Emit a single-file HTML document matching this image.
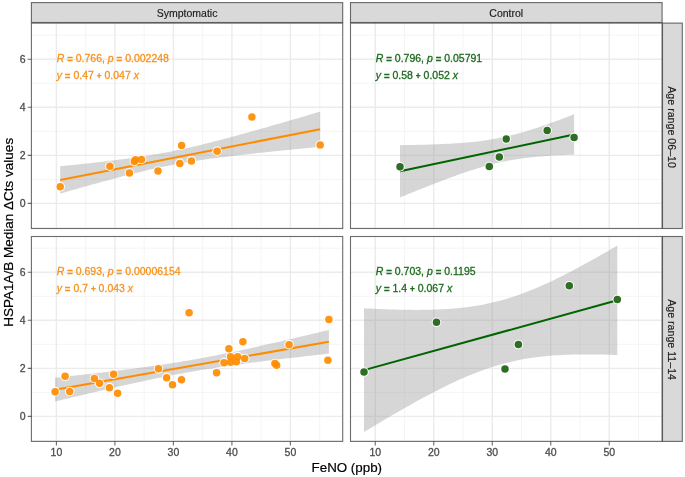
<!DOCTYPE html><html><head><meta charset="utf-8"><style>html,body{margin:0;padding:0;background:#fff;overflow:hidden;}svg{display:block;will-change:transform;}</style></head><body><svg width="685" height="477" viewBox="0 0 685 477">
<rect width="685" height="477" fill="#fff"/>
<rect x="31.4" y="23.1" width="311.30" height="205.40" fill="#fff"/>
<path d="M85.65 23.1V228.5M144.15 23.1V228.5M202.65 23.1V228.5M261.15 23.1V228.5M319.65 23.1V228.5M31.4 227.43H342.7M31.4 179.37H342.7M31.4 131.31H342.7M31.4 83.25H342.7M31.4 35.19H342.7" stroke="#F2F2F2" stroke-width="0.8" fill="none"/>
<path d="M56.40 23.1V228.5M114.90 23.1V228.5M173.40 23.1V228.5M231.90 23.1V228.5M290.40 23.1V228.5M31.4 203.40H342.7M31.4 155.34H342.7M31.4 107.28H342.7M31.4 59.22H342.7" stroke="#EBEBEB" stroke-width="1.4" fill="none"/>
<polygon points="60.20,166.27 63.49,165.93 66.78,165.59 70.07,165.25 73.36,164.90 76.66,164.56 79.95,164.21 83.24,163.85 86.53,163.49 89.82,163.13 93.11,162.76 96.40,162.39 99.69,162.01 102.98,161.63 106.28,161.24 109.57,160.85 112.86,160.45 116.15,160.04 119.44,159.62 122.73,159.19 126.02,158.76 129.31,158.31 132.61,157.85 135.90,157.39 139.19,156.90 142.48,156.41 145.77,155.90 149.06,155.38 152.35,154.84 155.64,154.28 158.93,153.71 162.23,153.12 165.52,152.51 168.81,151.89 172.10,151.24 175.39,150.58 178.68,149.90 181.97,149.20 185.26,148.48 188.55,147.75 191.85,147.00 195.14,146.24 198.43,145.46 201.72,144.67 205.01,143.86 208.30,143.04 211.59,142.21 214.88,141.37 218.17,140.52 221.47,139.66 224.76,138.79 228.05,137.91 231.34,137.03 234.63,136.14 237.92,135.24 241.21,134.34 244.50,133.43 247.79,132.51 251.09,131.59 254.38,130.67 257.67,129.74 260.96,128.81 264.25,127.88 267.54,126.94 270.83,126.00 274.12,125.06 277.42,124.11 280.71,123.17 284.00,122.21 287.29,121.26 290.58,120.31 293.87,119.35 297.16,118.39 300.45,117.43 303.74,116.47 307.04,115.51 310.33,114.54 313.62,113.58 316.91,112.61 320.20,111.64 320.20,146.79 316.91,147.11 313.62,147.43 310.33,147.74 307.04,148.06 303.74,148.39 300.45,148.71 297.16,149.03 293.87,149.36 290.58,149.69 287.29,150.02 284.00,150.35 280.71,150.68 277.42,151.02 274.12,151.36 270.83,151.70 267.54,152.04 264.25,152.39 260.96,152.74 257.67,153.09 254.38,153.45 251.09,153.81 247.79,154.18 244.50,154.55 241.21,154.93 237.92,155.31 234.63,155.69 231.34,156.09 228.05,156.49 224.76,156.89 221.47,157.31 218.17,157.73 214.88,158.17 211.59,158.61 208.30,159.07 205.01,159.53 201.72,160.01 198.43,160.50 195.14,161.01 191.85,161.53 188.55,162.06 185.26,162.61 181.97,163.18 178.68,163.77 175.39,164.37 172.10,164.99 168.81,165.63 165.52,166.29 162.23,166.97 158.93,167.66 155.64,168.38 152.35,169.10 149.06,169.85 145.77,170.61 142.48,171.39 139.19,172.18 135.90,172.98 132.61,173.79 129.31,174.62 126.02,175.46 122.73,176.31 119.44,177.17 116.15,178.03 112.86,178.91 109.57,179.79 106.28,180.68 102.98,181.58 99.69,182.48 96.40,183.39 93.11,184.30 89.82,185.22 86.53,186.14 83.24,187.06 79.95,187.99 76.66,188.93 73.36,189.86 70.07,190.80 66.78,191.75 63.49,192.69 60.20,193.64" fill="#999999" fill-opacity="0.4"/>
<line x1="60.20" y1="179.95" x2="320.20" y2="129.22" stroke="#FF8C00" stroke-width="2"/>
<circle cx="60.2" cy="186.8" r="4.8" fill="#fff" fill-opacity="0.92"/>
<circle cx="109.9" cy="166.2" r="4.8" fill="#fff" fill-opacity="0.92"/>
<circle cx="129.4" cy="173.1" r="4.8" fill="#fff" fill-opacity="0.92"/>
<circle cx="134.3" cy="161.6" r="4.8" fill="#fff" fill-opacity="0.92"/>
<circle cx="135.5" cy="159.8" r="4.8" fill="#fff" fill-opacity="0.92"/>
<circle cx="141.5" cy="159.4" r="4.8" fill="#fff" fill-opacity="0.92"/>
<circle cx="158" cy="171" r="4.8" fill="#fff" fill-opacity="0.92"/>
<circle cx="181.6" cy="145.4" r="4.8" fill="#fff" fill-opacity="0.92"/>
<circle cx="179.8" cy="163.4" r="4.8" fill="#fff" fill-opacity="0.92"/>
<circle cx="191.4" cy="160.9" r="4.8" fill="#fff" fill-opacity="0.92"/>
<circle cx="217.1" cy="151.2" r="4.8" fill="#fff" fill-opacity="0.92"/>
<circle cx="251.9" cy="116.9" r="4.8" fill="#fff" fill-opacity="0.92"/>
<circle cx="320.2" cy="145" r="4.8" fill="#fff" fill-opacity="0.92"/>
<circle cx="60.2" cy="186.8" r="3.75" fill="#FF8C00" fill-opacity="0.92"/>
<circle cx="109.9" cy="166.2" r="3.75" fill="#FF8C00" fill-opacity="0.92"/>
<circle cx="129.4" cy="173.1" r="3.75" fill="#FF8C00" fill-opacity="0.92"/>
<circle cx="134.3" cy="161.6" r="3.75" fill="#FF8C00" fill-opacity="0.92"/>
<circle cx="135.5" cy="159.8" r="3.75" fill="#FF8C00" fill-opacity="0.92"/>
<circle cx="141.5" cy="159.4" r="3.75" fill="#FF8C00" fill-opacity="0.92"/>
<circle cx="158" cy="171" r="3.75" fill="#FF8C00" fill-opacity="0.92"/>
<circle cx="181.6" cy="145.4" r="3.75" fill="#FF8C00" fill-opacity="0.92"/>
<circle cx="179.8" cy="163.4" r="3.75" fill="#FF8C00" fill-opacity="0.92"/>
<circle cx="191.4" cy="160.9" r="3.75" fill="#FF8C00" fill-opacity="0.92"/>
<circle cx="217.1" cy="151.2" r="3.75" fill="#FF8C00" fill-opacity="0.92"/>
<circle cx="251.9" cy="116.9" r="3.75" fill="#FF8C00" fill-opacity="0.92"/>
<circle cx="320.2" cy="145" r="3.75" fill="#FF8C00" fill-opacity="0.92"/>
<rect x="350.5" y="23.1" width="311.60" height="205.40" fill="#fff"/>
<path d="M404.50 23.1V228.5M463.00 23.1V228.5M521.50 23.1V228.5M580.00 23.1V228.5M638.50 23.1V228.5M350.5 227.43H662.1M350.5 179.37H662.1M350.5 131.31H662.1M350.5 83.25H662.1M350.5 35.19H662.1" stroke="#F2F2F2" stroke-width="0.8" fill="none"/>
<path d="M375.25 23.1V228.5M433.75 23.1V228.5M492.25 23.1V228.5M550.75 23.1V228.5M609.25 23.1V228.5M350.5 203.40H662.1M350.5 155.34H662.1M350.5 107.28H662.1M350.5 59.22H662.1" stroke="#EBEBEB" stroke-width="1.4" fill="none"/>
<polygon points="400.00,145.17 402.20,145.14 404.41,145.10 406.61,145.07 408.82,145.03 411.02,144.99 413.22,144.95 415.43,144.91 417.63,144.86 419.83,144.81 422.04,144.75 424.24,144.69 426.45,144.63 428.65,144.57 430.85,144.50 433.06,144.42 435.26,144.34 437.46,144.26 439.67,144.17 441.87,144.07 444.08,143.97 446.28,143.87 448.48,143.75 450.69,143.63 452.89,143.50 455.09,143.37 457.30,143.22 459.50,143.07 461.71,142.90 463.91,142.73 466.11,142.54 468.32,142.35 470.52,142.14 472.73,141.92 474.93,141.68 477.13,141.43 479.34,141.17 481.54,140.89 483.74,140.59 485.95,140.28 488.15,139.95 490.36,139.60 492.56,139.24 494.76,138.85 496.97,138.44 499.17,138.02 501.37,137.58 503.58,137.11 505.78,136.63 507.99,136.12 510.19,135.60 512.39,135.05 514.60,134.49 516.80,133.91 519.01,133.31 521.21,132.69 523.41,132.06 525.62,131.41 527.82,130.74 530.02,130.06 532.23,129.36 534.43,128.65 536.64,127.93 538.84,127.20 541.04,126.45 543.25,125.69 545.45,124.93 547.65,124.15 549.86,123.36 552.06,122.57 554.27,121.76 556.47,120.95 558.67,120.14 560.88,119.31 563.08,118.48 565.28,117.64 567.49,116.80 569.69,115.95 571.90,115.10 574.10,114.24 574.10,154.62 571.90,154.69 569.69,154.77 567.49,154.86 565.28,154.95 563.08,155.05 560.88,155.15 558.67,155.26 556.47,155.37 554.27,155.49 552.06,155.62 549.86,155.76 547.65,155.91 545.45,156.07 543.25,156.23 541.04,156.41 538.84,156.60 536.64,156.80 534.43,157.01 532.23,157.23 530.02,157.47 527.82,157.72 525.62,157.99 523.41,158.27 521.21,158.57 519.01,158.89 516.80,159.22 514.60,159.57 512.39,159.94 510.19,160.33 507.99,160.74 505.78,161.17 503.58,161.62 501.37,162.09 499.17,162.57 496.97,163.08 494.76,163.61 492.56,164.16 490.36,164.73 488.15,165.31 485.95,165.92 483.74,166.54 481.54,167.17 479.34,167.83 477.13,168.50 474.93,169.18 472.73,169.88 470.52,170.59 468.32,171.32 466.11,172.05 463.91,172.80 461.71,173.56 459.50,174.33 457.30,175.11 455.09,175.90 452.89,176.69 450.69,177.50 448.48,178.31 446.28,179.13 444.08,179.96 441.87,180.79 439.67,181.63 437.46,182.47 435.26,183.32 433.06,184.18 430.85,185.04 428.65,185.90 426.45,186.77 424.24,187.64 422.04,188.51 419.83,189.39 417.63,190.27 415.43,191.16 413.22,192.05 411.02,192.94 408.82,193.83 406.61,194.73 404.41,195.63 402.20,196.53 400.00,197.43" fill="#999999" fill-opacity="0.4"/>
<line x1="400.00" y1="171.30" x2="574.10" y2="134.43" stroke="#006400" stroke-width="2"/>
<circle cx="400" cy="166.8" r="4.8" fill="#fff" fill-opacity="0.92"/>
<circle cx="489.3" cy="166.6" r="4.8" fill="#fff" fill-opacity="0.92"/>
<circle cx="499.3" cy="157" r="4.8" fill="#fff" fill-opacity="0.92"/>
<circle cx="506.3" cy="139" r="4.8" fill="#fff" fill-opacity="0.92"/>
<circle cx="547.2" cy="130.4" r="4.8" fill="#fff" fill-opacity="0.92"/>
<circle cx="574.1" cy="137.5" r="4.8" fill="#fff" fill-opacity="0.92"/>
<circle cx="400" cy="166.8" r="3.75" fill="#1C6211" fill-opacity="0.92"/>
<circle cx="489.3" cy="166.6" r="3.75" fill="#1C6211" fill-opacity="0.92"/>
<circle cx="499.3" cy="157" r="3.75" fill="#1C6211" fill-opacity="0.92"/>
<circle cx="506.3" cy="139" r="3.75" fill="#1C6211" fill-opacity="0.92"/>
<circle cx="547.2" cy="130.4" r="3.75" fill="#1C6211" fill-opacity="0.92"/>
<circle cx="574.1" cy="137.5" r="3.75" fill="#1C6211" fill-opacity="0.92"/>
<rect x="31.4" y="236.5" width="311.30" height="204.90" fill="#fff"/>
<path d="M85.65 236.5V441.4M144.15 236.5V441.4M202.65 236.5V441.4M261.15 236.5V441.4M319.65 236.5V441.4M31.4 440.43H342.7M31.4 392.37H342.7M31.4 344.31H342.7M31.4 296.25H342.7M31.4 248.19H342.7" stroke="#F2F2F2" stroke-width="0.8" fill="none"/>
<path d="M56.40 236.5V441.4M114.90 236.5V441.4M173.40 236.5V441.4M231.90 236.5V441.4M290.40 236.5V441.4M31.4 416.40H342.7M31.4 368.34H342.7M31.4 320.28H342.7M31.4 272.22H342.7" stroke="#EBEBEB" stroke-width="1.4" fill="none"/>
<polygon points="55.10,377.79 58.57,377.41 62.03,377.03 65.50,376.65 68.96,376.26 72.43,375.87 75.89,375.49 79.36,375.09 82.83,374.70 86.29,374.31 89.76,373.91 93.22,373.51 96.69,373.11 100.16,372.70 103.62,372.29 107.09,371.88 110.55,371.46 114.02,371.04 117.48,370.62 120.95,370.19 124.42,369.76 127.88,369.32 131.35,368.88 134.81,368.43 138.28,367.97 141.75,367.51 145.21,367.04 148.68,366.57 152.14,366.09 155.61,365.59 159.07,365.09 162.54,364.58 166.01,364.06 169.47,363.54 172.94,363.00 176.40,362.45 179.87,361.89 183.34,361.32 186.80,360.73 190.27,360.14 193.73,359.53 197.20,358.91 200.66,358.28 204.13,357.64 207.60,356.99 211.06,356.33 214.53,355.66 217.99,354.97 221.46,354.28 224.93,353.58 228.39,352.87 231.86,352.14 235.32,351.42 238.79,350.68 242.25,349.94 245.72,349.19 249.19,348.43 252.65,347.67 256.12,346.90 259.58,346.12 263.05,345.34 266.52,344.56 269.98,343.77 273.45,342.98 276.91,342.18 280.38,341.38 283.84,340.58 287.31,339.77 290.78,338.96 294.24,338.15 297.71,337.34 301.17,336.52 304.64,335.70 308.11,334.88 311.57,334.06 315.04,333.23 318.50,332.41 321.97,331.58 325.43,330.75 328.90,329.91 328.90,353.64 325.43,354.02 321.97,354.41 318.50,354.79 315.04,355.17 311.57,355.56 308.11,355.95 304.64,356.34 301.17,356.73 297.71,357.13 294.24,357.52 290.78,357.92 287.31,358.33 283.84,358.73 280.38,359.14 276.91,359.55 273.45,359.97 269.98,360.39 266.52,360.81 263.05,361.24 259.58,361.67 256.12,362.11 252.65,362.55 249.19,363.00 245.72,363.46 242.25,363.92 238.79,364.39 235.32,364.86 231.86,365.35 228.39,365.84 224.93,366.34 221.46,366.85 217.99,367.36 214.53,367.89 211.06,368.43 207.60,368.98 204.13,369.54 200.66,370.11 197.20,370.69 193.73,371.29 190.27,371.89 186.80,372.51 183.34,373.14 179.87,373.78 176.40,374.43 172.94,375.09 169.47,375.77 166.01,376.45 162.54,377.14 159.07,377.85 155.61,378.56 152.14,379.28 148.68,380.01 145.21,380.74 141.75,381.48 138.28,382.24 134.81,382.99 131.35,383.75 127.88,384.52 124.42,385.30 120.95,386.08 117.48,386.86 114.02,387.65 110.55,388.44 107.09,389.24 103.62,390.04 100.16,390.84 96.69,391.64 93.22,392.45 89.76,393.27 86.29,394.08 82.83,394.90 79.36,395.72 75.89,396.54 72.43,397.36 68.96,398.19 65.50,399.01 62.03,399.84 58.57,400.67 55.10,401.50" fill="#999999" fill-opacity="0.4"/>
<line x1="55.10" y1="389.65" x2="328.90" y2="341.78" stroke="#FF8C00" stroke-width="2"/>
<circle cx="55.1" cy="391.65" r="4.8" fill="#fff" fill-opacity="0.92"/>
<circle cx="65.1" cy="376.35" r="4.8" fill="#fff" fill-opacity="0.92"/>
<circle cx="69.7" cy="391.45" r="4.8" fill="#fff" fill-opacity="0.92"/>
<circle cx="94.4" cy="378.45" r="4.8" fill="#fff" fill-opacity="0.92"/>
<circle cx="99.6" cy="383.35" r="4.8" fill="#fff" fill-opacity="0.92"/>
<circle cx="109.4" cy="387.65" r="4.8" fill="#fff" fill-opacity="0.92"/>
<circle cx="113.6" cy="374.15" r="4.8" fill="#fff" fill-opacity="0.92"/>
<circle cx="117.6" cy="393.15" r="4.8" fill="#fff" fill-opacity="0.92"/>
<circle cx="158.5" cy="368.85" r="4.8" fill="#fff" fill-opacity="0.92"/>
<circle cx="166.6" cy="377.65" r="4.8" fill="#fff" fill-opacity="0.92"/>
<circle cx="172.5" cy="384.75" r="4.8" fill="#fff" fill-opacity="0.92"/>
<circle cx="181.5" cy="379.75" r="4.8" fill="#fff" fill-opacity="0.92"/>
<circle cx="189.1" cy="312.75" r="4.8" fill="#fff" fill-opacity="0.92"/>
<circle cx="216.6" cy="372.75" r="4.8" fill="#fff" fill-opacity="0.92"/>
<circle cx="224" cy="362.65" r="4.8" fill="#fff" fill-opacity="0.92"/>
<circle cx="228.9" cy="348.75" r="4.8" fill="#fff" fill-opacity="0.92"/>
<circle cx="230.6" cy="356.65" r="4.8" fill="#fff" fill-opacity="0.92"/>
<circle cx="230.6" cy="362.15" r="4.8" fill="#fff" fill-opacity="0.92"/>
<circle cx="236.3" cy="361.75" r="4.8" fill="#fff" fill-opacity="0.92"/>
<circle cx="237.6" cy="356.65" r="4.8" fill="#fff" fill-opacity="0.92"/>
<circle cx="242.9" cy="341.75" r="4.8" fill="#fff" fill-opacity="0.92"/>
<circle cx="244.7" cy="358.45" r="4.8" fill="#fff" fill-opacity="0.92"/>
<circle cx="274.9" cy="363.45" r="4.8" fill="#fff" fill-opacity="0.92"/>
<circle cx="276.6" cy="365.35" r="4.8" fill="#fff" fill-opacity="0.92"/>
<circle cx="289.1" cy="344.65" r="4.8" fill="#fff" fill-opacity="0.92"/>
<circle cx="328.9" cy="319.45" r="4.8" fill="#fff" fill-opacity="0.92"/>
<circle cx="327.9" cy="360.15" r="4.8" fill="#fff" fill-opacity="0.92"/>
<circle cx="55.1" cy="391.65" r="3.75" fill="#FF8C00" fill-opacity="0.92"/>
<circle cx="65.1" cy="376.35" r="3.75" fill="#FF8C00" fill-opacity="0.92"/>
<circle cx="69.7" cy="391.45" r="3.75" fill="#FF8C00" fill-opacity="0.92"/>
<circle cx="94.4" cy="378.45" r="3.75" fill="#FF8C00" fill-opacity="0.92"/>
<circle cx="99.6" cy="383.35" r="3.75" fill="#FF8C00" fill-opacity="0.92"/>
<circle cx="109.4" cy="387.65" r="3.75" fill="#FF8C00" fill-opacity="0.92"/>
<circle cx="113.6" cy="374.15" r="3.75" fill="#FF8C00" fill-opacity="0.92"/>
<circle cx="117.6" cy="393.15" r="3.75" fill="#FF8C00" fill-opacity="0.92"/>
<circle cx="158.5" cy="368.85" r="3.75" fill="#FF8C00" fill-opacity="0.92"/>
<circle cx="166.6" cy="377.65" r="3.75" fill="#FF8C00" fill-opacity="0.92"/>
<circle cx="172.5" cy="384.75" r="3.75" fill="#FF8C00" fill-opacity="0.92"/>
<circle cx="181.5" cy="379.75" r="3.75" fill="#FF8C00" fill-opacity="0.92"/>
<circle cx="189.1" cy="312.75" r="3.75" fill="#FF8C00" fill-opacity="0.92"/>
<circle cx="216.6" cy="372.75" r="3.75" fill="#FF8C00" fill-opacity="0.92"/>
<circle cx="224" cy="362.65" r="3.75" fill="#FF8C00" fill-opacity="0.92"/>
<circle cx="228.9" cy="348.75" r="3.75" fill="#FF8C00" fill-opacity="0.92"/>
<circle cx="230.6" cy="356.65" r="3.75" fill="#FF8C00" fill-opacity="0.92"/>
<circle cx="230.6" cy="362.15" r="3.75" fill="#FF8C00" fill-opacity="0.92"/>
<circle cx="236.3" cy="361.75" r="3.75" fill="#FF8C00" fill-opacity="0.92"/>
<circle cx="237.6" cy="356.65" r="3.75" fill="#FF8C00" fill-opacity="0.92"/>
<circle cx="242.9" cy="341.75" r="3.75" fill="#FF8C00" fill-opacity="0.92"/>
<circle cx="244.7" cy="358.45" r="3.75" fill="#FF8C00" fill-opacity="0.92"/>
<circle cx="274.9" cy="363.45" r="3.75" fill="#FF8C00" fill-opacity="0.92"/>
<circle cx="276.6" cy="365.35" r="3.75" fill="#FF8C00" fill-opacity="0.92"/>
<circle cx="289.1" cy="344.65" r="3.75" fill="#FF8C00" fill-opacity="0.92"/>
<circle cx="328.9" cy="319.45" r="3.75" fill="#FF8C00" fill-opacity="0.92"/>
<circle cx="327.9" cy="360.15" r="3.75" fill="#FF8C00" fill-opacity="0.92"/>
<rect x="350.5" y="236.5" width="311.60" height="204.90" fill="#fff"/>
<path d="M404.50 236.5V441.4M463.00 236.5V441.4M521.50 236.5V441.4M580.00 236.5V441.4M638.50 236.5V441.4M350.5 440.43H662.1M350.5 392.37H662.1M350.5 344.31H662.1M350.5 296.25H662.1M350.5 248.19H662.1" stroke="#F2F2F2" stroke-width="0.8" fill="none"/>
<path d="M375.25 236.5V441.4M433.75 236.5V441.4M492.25 236.5V441.4M550.75 236.5V441.4M609.25 236.5V441.4M350.5 416.40H662.1M350.5 368.34H662.1M350.5 320.28H662.1M350.5 272.22H662.1" stroke="#EBEBEB" stroke-width="1.4" fill="none"/>
<polygon points="364.00,308.29 367.21,308.45 370.41,308.61 373.62,308.77 376.83,308.91 380.03,309.05 383.24,309.18 386.44,309.30 389.65,309.41 392.86,309.51 396.06,309.60 399.27,309.68 402.48,309.75 405.68,309.80 408.89,309.85 412.09,309.87 415.30,309.88 418.51,309.88 421.71,309.86 424.92,309.82 428.13,309.77 431.33,309.69 434.54,309.59 437.75,309.47 440.95,309.33 444.16,309.16 447.36,308.96 450.57,308.74 453.78,308.48 456.98,308.20 460.19,307.88 463.40,307.53 466.60,307.15 469.81,306.72 473.02,306.26 476.22,305.76 479.43,305.22 482.63,304.63 485.84,304.00 489.05,303.32 492.25,302.60 495.46,301.84 498.67,301.02 501.87,300.16 505.08,299.25 508.28,298.29 511.49,297.28 514.70,296.23 517.90,295.14 521.11,293.99 524.32,292.81 527.52,291.58 530.73,290.31 533.94,289.00 537.14,287.65 540.35,286.26 543.55,284.84 546.76,283.39 549.97,281.90 553.17,280.38 556.38,278.83 559.59,277.26 562.79,275.65 566.00,274.03 569.21,272.38 572.41,270.70 575.62,269.01 578.82,267.30 582.03,265.56 585.24,263.81 588.44,262.05 591.65,260.26 594.86,258.47 598.06,256.66 601.27,254.83 604.47,252.99 607.68,251.14 610.89,249.28 614.09,247.41 617.30,245.53 617.30,355.01 614.09,354.90 610.89,354.79 607.68,354.70 604.47,354.62 601.27,354.55 598.06,354.50 594.86,354.46 591.65,354.43 588.44,354.42 585.24,354.42 582.03,354.44 578.82,354.47 575.62,354.53 572.41,354.61 569.21,354.70 566.00,354.82 562.79,354.96 559.59,355.13 556.38,355.32 553.17,355.55 549.97,355.80 546.76,356.08 543.55,356.39 540.35,356.74 537.14,357.12 533.94,357.54 530.73,358.00 527.52,358.50 524.32,359.04 521.11,359.62 517.90,360.25 514.70,360.92 511.49,361.64 508.28,362.40 505.08,363.22 501.87,364.08 498.67,364.98 495.46,365.94 492.25,366.94 489.05,367.99 485.84,369.08 482.63,370.22 479.43,371.40 476.22,372.63 473.02,373.89 469.81,375.20 466.60,376.55 463.40,377.93 460.19,379.35 456.98,380.80 453.78,382.29 450.57,383.80 447.36,385.35 444.16,386.92 440.95,388.52 437.75,390.15 434.54,391.80 431.33,393.47 428.13,395.16 424.92,396.87 421.71,398.60 418.51,400.35 415.30,402.12 412.09,403.90 408.89,405.70 405.68,407.51 402.48,409.33 399.27,411.17 396.06,413.01 392.86,414.87 389.65,416.74 386.44,418.62 383.24,420.51 380.03,422.41 376.83,424.32 373.62,426.23 370.41,428.16 367.21,430.09 364.00,432.02" fill="#999999" fill-opacity="0.4"/>
<line x1="364.00" y1="370.16" x2="617.30" y2="300.27" stroke="#006400" stroke-width="2"/>
<circle cx="364" cy="372" r="4.8" fill="#fff" fill-opacity="0.92"/>
<circle cx="436.5" cy="322.3" r="4.8" fill="#fff" fill-opacity="0.92"/>
<circle cx="505" cy="368.9" r="4.8" fill="#fff" fill-opacity="0.92"/>
<circle cx="518.4" cy="344.5" r="4.8" fill="#fff" fill-opacity="0.92"/>
<circle cx="569.3" cy="285.7" r="4.8" fill="#fff" fill-opacity="0.92"/>
<circle cx="617.3" cy="299.5" r="4.8" fill="#fff" fill-opacity="0.92"/>
<circle cx="364" cy="372" r="3.75" fill="#1C6211" fill-opacity="0.92"/>
<circle cx="436.5" cy="322.3" r="3.75" fill="#1C6211" fill-opacity="0.92"/>
<circle cx="505" cy="368.9" r="3.75" fill="#1C6211" fill-opacity="0.92"/>
<circle cx="518.4" cy="344.5" r="3.75" fill="#1C6211" fill-opacity="0.92"/>
<circle cx="569.3" cy="285.7" r="3.75" fill="#1C6211" fill-opacity="0.92"/>
<circle cx="617.3" cy="299.5" r="3.75" fill="#1C6211" fill-opacity="0.92"/>
<text font-family="Liberation Sans, sans-serif" font-size="10.5" fill="#F7931E" stroke="#F7931E" stroke-width="0.3" x="56.7" y="61.6" word-spacing="0" xml:space="preserve"><tspan font-style="italic">R</tspan> <tspan font-size="9.6" font-weight="bold">=</tspan> 0.766, <tspan font-style="italic">p</tspan> <tspan font-size="9.6" font-weight="bold">=</tspan> 0.002248</text>
<text font-family="Liberation Sans, sans-serif" font-size="10.5" fill="#F7931E" stroke="#F7931E" stroke-width="0.3" x="56.7" y="78.7" word-spacing="0" xml:space="preserve"><tspan font-style="italic">y</tspan> <tspan font-size="9.6" font-weight="bold">=</tspan> 0.47 <tspan font-size="8.2" font-weight="bold" baseline-shift="0">+</tspan> 0.047 <tspan font-style="italic">x</tspan></text>
<text font-family="Liberation Sans, sans-serif" font-size="10.5" fill="#1E6B1E" stroke="#1E6B1E" stroke-width="0.3" x="375.8" y="61.6" word-spacing="0" xml:space="preserve"><tspan font-style="italic">R</tspan> <tspan font-size="9.6" font-weight="bold">=</tspan> 0.796, <tspan font-style="italic">p</tspan> <tspan font-size="9.6" font-weight="bold">=</tspan> 0.05791</text>
<text font-family="Liberation Sans, sans-serif" font-size="10.5" fill="#1E6B1E" stroke="#1E6B1E" stroke-width="0.3" x="375.8" y="78.7" word-spacing="0" xml:space="preserve"><tspan font-style="italic">y</tspan> <tspan font-size="9.6" font-weight="bold">=</tspan> 0.58 <tspan font-size="8.2" font-weight="bold" baseline-shift="0">+</tspan> 0.052 <tspan font-style="italic">x</tspan></text>
<text font-family="Liberation Sans, sans-serif" font-size="10.5" fill="#F7931E" stroke="#F7931E" stroke-width="0.3" x="56.7" y="274.6" word-spacing="0" xml:space="preserve"><tspan font-style="italic">R</tspan> <tspan font-size="9.6" font-weight="bold">=</tspan> 0.693, <tspan font-style="italic">p</tspan> <tspan font-size="9.6" font-weight="bold">=</tspan> 0.00006154</text>
<text font-family="Liberation Sans, sans-serif" font-size="10.5" fill="#F7931E" stroke="#F7931E" stroke-width="0.3" x="56.7" y="291.70000000000005" word-spacing="0" xml:space="preserve"><tspan font-style="italic">y</tspan> <tspan font-size="9.6" font-weight="bold">=</tspan> 0.7 <tspan font-size="8.2" font-weight="bold" baseline-shift="0">+</tspan> 0.043 <tspan font-style="italic">x</tspan></text>
<text font-family="Liberation Sans, sans-serif" font-size="10.5" fill="#1E6B1E" stroke="#1E6B1E" stroke-width="0.3" x="375.8" y="274.6" word-spacing="0" xml:space="preserve"><tspan font-style="italic">R</tspan> <tspan font-size="9.6" font-weight="bold">=</tspan> 0.703, <tspan font-style="italic">p</tspan> <tspan font-size="9.6" font-weight="bold">=</tspan> 0.1195</text>
<text font-family="Liberation Sans, sans-serif" font-size="10.5" fill="#1E6B1E" stroke="#1E6B1E" stroke-width="0.3" x="375.8" y="291.70000000000005" word-spacing="0" xml:space="preserve"><tspan font-style="italic">y</tspan> <tspan font-size="9.6" font-weight="bold">=</tspan> 1.4 <tspan font-size="8.2" font-weight="bold" baseline-shift="0">+</tspan> 0.067 <tspan font-style="italic">x</tspan></text>
<rect x="31.4" y="23.1" width="311.30" height="205.40" fill="none" stroke="#333" stroke-opacity="0.72" stroke-width="1.1"/>
<rect x="31.4" y="236.5" width="311.30" height="204.90" fill="none" stroke="#333" stroke-opacity="0.72" stroke-width="1.1"/>
<rect x="350.5" y="23.1" width="311.60" height="205.40" fill="none" stroke="#333" stroke-opacity="0.72" stroke-width="1.1"/>
<rect x="350.5" y="236.5" width="311.60" height="204.90" fill="none" stroke="#333" stroke-opacity="0.72" stroke-width="1.1"/>
<rect x="31.4" y="2.6" width="311.30" height="19.9" fill="#D9D9D9" stroke="#333" stroke-opacity="0.72" stroke-width="1.1"/>
<text font-family="Liberation Sans, sans-serif" font-size="10.5" fill="#1A1A1A" stroke="#1A1A1A" stroke-width="0.15" x="187.05" y="17" text-anchor="middle">Symptomatic</text>
<rect x="350.5" y="2.6" width="311.60" height="19.9" fill="#D9D9D9" stroke="#333" stroke-opacity="0.72" stroke-width="1.1"/>
<text font-family="Liberation Sans, sans-serif" font-size="10.5" fill="#1A1A1A" stroke="#1A1A1A" stroke-width="0.15" x="506.30" y="17" text-anchor="middle">Control</text>
<rect x="662.5" y="23.1" width="19.8" height="205.40" fill="#D9D9D9" stroke="#333" stroke-opacity="0.72" stroke-width="1.1"/>
<text font-family="Liberation Sans, sans-serif" font-size="10.65" fill="#1A1A1A" stroke="#1A1A1A" stroke-width="0.15" transform="translate(668.3 127.10) rotate(90)" text-anchor="middle">Age range 06–10</text>
<rect x="662.5" y="236.5" width="19.8" height="204.90" fill="#D9D9D9" stroke="#333" stroke-opacity="0.72" stroke-width="1.1"/>
<text font-family="Liberation Sans, sans-serif" font-size="10.65" fill="#1A1A1A" stroke="#1A1A1A" stroke-width="0.15" transform="translate(668.3 339.55) rotate(90)" text-anchor="middle">Age range 11–14</text>
<text font-family="Liberation Sans, sans-serif" font-size="10.5" fill="#4D4D4D" stroke="#4D4D4D" stroke-width="0.3" x="25.6" y="207.10" text-anchor="end">0</text>
<text font-family="Liberation Sans, sans-serif" font-size="10.5" fill="#4D4D4D" stroke="#4D4D4D" stroke-width="0.3" x="25.6" y="159.04" text-anchor="end">2</text>
<text font-family="Liberation Sans, sans-serif" font-size="10.5" fill="#4D4D4D" stroke="#4D4D4D" stroke-width="0.3" x="25.6" y="110.98" text-anchor="end">4</text>
<text font-family="Liberation Sans, sans-serif" font-size="10.5" fill="#4D4D4D" stroke="#4D4D4D" stroke-width="0.3" x="25.6" y="62.92" text-anchor="end">6</text>
<text font-family="Liberation Sans, sans-serif" font-size="10.5" fill="#4D4D4D" stroke="#4D4D4D" stroke-width="0.3" x="25.6" y="420.10" text-anchor="end">0</text>
<text font-family="Liberation Sans, sans-serif" font-size="10.5" fill="#4D4D4D" stroke="#4D4D4D" stroke-width="0.3" x="25.6" y="372.04" text-anchor="end">2</text>
<text font-family="Liberation Sans, sans-serif" font-size="10.5" fill="#4D4D4D" stroke="#4D4D4D" stroke-width="0.3" x="25.6" y="323.98" text-anchor="end">4</text>
<text font-family="Liberation Sans, sans-serif" font-size="10.5" fill="#4D4D4D" stroke="#4D4D4D" stroke-width="0.3" x="25.6" y="275.92" text-anchor="end">6</text>
<text font-family="Liberation Sans, sans-serif" font-size="10.5" fill="#4D4D4D" stroke="#4D4D4D" stroke-width="0.3" x="56.40" y="455.7" text-anchor="middle">10</text>
<text font-family="Liberation Sans, sans-serif" font-size="10.5" fill="#4D4D4D" stroke="#4D4D4D" stroke-width="0.3" x="114.90" y="455.7" text-anchor="middle">20</text>
<text font-family="Liberation Sans, sans-serif" font-size="10.5" fill="#4D4D4D" stroke="#4D4D4D" stroke-width="0.3" x="173.40" y="455.7" text-anchor="middle">30</text>
<text font-family="Liberation Sans, sans-serif" font-size="10.5" fill="#4D4D4D" stroke="#4D4D4D" stroke-width="0.3" x="231.90" y="455.7" text-anchor="middle">40</text>
<text font-family="Liberation Sans, sans-serif" font-size="10.5" fill="#4D4D4D" stroke="#4D4D4D" stroke-width="0.3" x="290.40" y="455.7" text-anchor="middle">50</text>
<text font-family="Liberation Sans, sans-serif" font-size="10.5" fill="#4D4D4D" stroke="#4D4D4D" stroke-width="0.3" x="375.25" y="455.7" text-anchor="middle">10</text>
<text font-family="Liberation Sans, sans-serif" font-size="10.5" fill="#4D4D4D" stroke="#4D4D4D" stroke-width="0.3" x="433.75" y="455.7" text-anchor="middle">20</text>
<text font-family="Liberation Sans, sans-serif" font-size="10.5" fill="#4D4D4D" stroke="#4D4D4D" stroke-width="0.3" x="492.25" y="455.7" text-anchor="middle">30</text>
<text font-family="Liberation Sans, sans-serif" font-size="10.5" fill="#4D4D4D" stroke="#4D4D4D" stroke-width="0.3" x="550.75" y="455.7" text-anchor="middle">40</text>
<text font-family="Liberation Sans, sans-serif" font-size="10.5" fill="#4D4D4D" stroke="#4D4D4D" stroke-width="0.3" x="609.25" y="455.7" text-anchor="middle">50</text>
<path d="M27.7 203.40H31.4M27.7 155.34H31.4M27.7 107.28H31.4M27.7 59.22H31.4M27.7 416.40H31.4M27.7 368.34H31.4M27.7 320.28H31.4M27.7 272.22H31.4M56.40 441.4V445.6M114.90 441.4V445.6M173.40 441.4V445.6M231.90 441.4V445.6M290.40 441.4V445.6M375.25 441.4V445.6M433.75 441.4V445.6M492.25 441.4V445.6M550.75 441.4V445.6M609.25 441.4V445.6" stroke="#333" stroke-opacity="0.72" stroke-width="1.1" fill="none"/>
<text font-family="Liberation Sans, sans-serif" font-size="13.35" fill="#000" stroke="#000" stroke-width="0.2" x="346.8" y="471.6" text-anchor="middle">FeNO (ppb)</text>
<text font-family="Liberation Sans, sans-serif" font-size="13.5" fill="#000" stroke="#000" stroke-width="0.2" transform="translate(12.9 232.3) rotate(-90)" text-anchor="middle">HSPA1A/B Median ΔCts values</text>
</svg></body></html>
